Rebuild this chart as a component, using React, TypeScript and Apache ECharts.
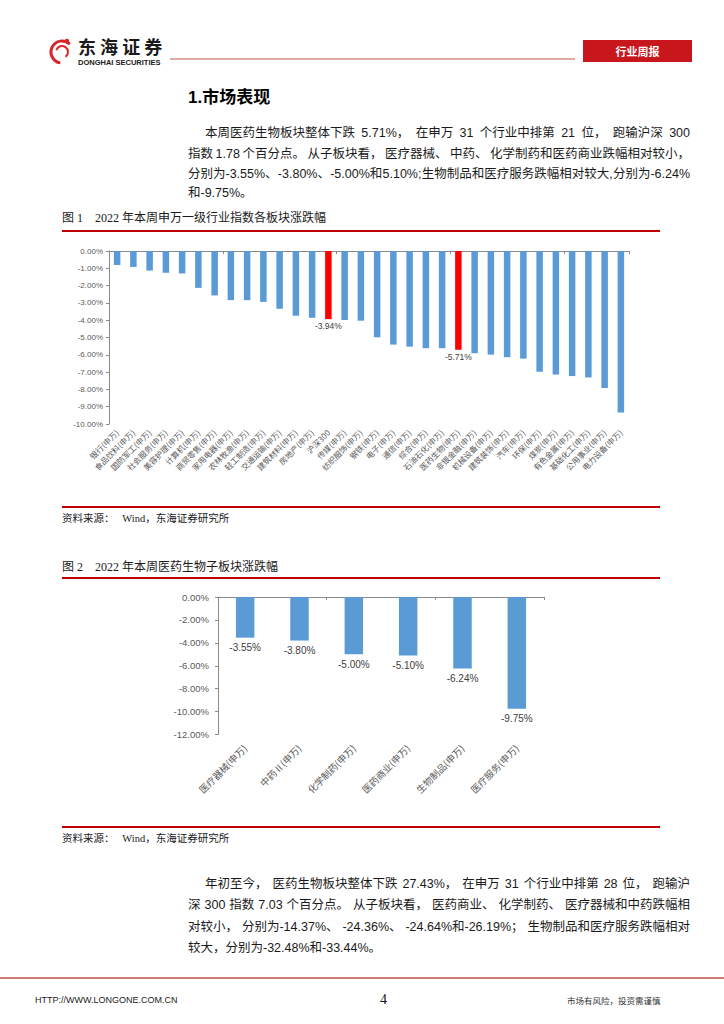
import React, { useEffect, useRef } from "react";
import * as echarts from "echarts";

// ---------- Data ----------
const industryNames = [
  "银行(申万)", "食品饮料(申万)", "国防军工(申万)", "社会服务(申万)", "美容护理(申万)",
  "计算机(申万)", "商贸零售(申万)", "家用电器(申万)", "农林牧渔(申万)", "轻工制造(申万)",
  "交通运输(申万)", "建筑材料(申万)", "房地产(申万)", "沪深300", "传媒(申万)",
  "纺织服饰(申万)", "钢铁(申万)", "电子(申万)", "通信(申万)", "综合(申万)",
  "石油石化(申万)", "医药生物(申万)", "非银金融(申万)", "机械设备(申万)", "建筑装饰(申万)",
  "汽车(申万)", "环保(申万)", "煤炭(申万)", "有色金属(申万)", "基础化工(申万)",
  "公用事业(申万)", "电力设备(申万)",
];
const industryChanges = [
  -0.81, -0.92, -1.13, -1.26, -1.3,
  -2.13, -2.57, -2.84, -2.84, -2.94,
  -3.34, -3.74, -3.86, -3.94, -3.99,
  -4.03, -4.99, -5.41, -5.53, -5.62,
  -5.62, -5.71, -5.91, -5.99, -6.14,
  -6.22, -6.98, -7.14, -7.23, -7.31,
  -7.92, -9.33,
];
const highlighted = ["沪深300", "医药生物(申万)"];

const subSectorNames = [
  "医疗器械(申万)", "中药Ⅱ(申万)", "化学制药(申万)", "医药商业(申万)", "生物制品(申万)", "医疗服务(申万)",
];
const subSectorChanges = [-3.55, -3.8, -5.0, -5.1, -6.24, -9.75];

const para1 = [
  "本周医药生物板块整体下跌 5.71%，在申万 31 个行业中排第 21 位，跑输沪深 300",
  "指数 1.78 个百分点。从子板块看，医疗器械、中药、化学制药和医药商业跌幅相对较小，",
  "分别为-3.55%、-3.80%、-5.00%和 5.10%;生物制品和医疗服务跌幅相对较大,分别为-6.24%",
  "和-9.75%。",
];
const para2 = [
  "年初至今，医药生物板块整体下跌 27.43%，在申万 31 个行业中排第 28 位，跑输沪",
  "深 300 指数 7.03 个百分点。从子板块看，医药商业、化学制药、医疗器械和中药跌幅相",
  "对较小，分别为-14.37%、-24.36%、-24.64%和-26.19%；生物制品和医疗服务跌幅相对",
  "较大，分别为-32.48%和-33.44%。",
];

// ---------- Styles ----------
const SANS = "'Liberation Sans', 'Noto Sans CJK SC', sans-serif";
const SERIF = "'Liberation Serif', 'Noto Sans CJK SC', serif";
const CJK = "'Noto Sans CJK SC', sans-serif";
const BLUE = "#5b9bd5";
const RED_BAR = "#ff0000";
const RULE_RED = "#c00000";
const AXIS_GREY = "#898989";
const LABEL_GREY = "#595959";

function txt(text: string, x: number, y: number, opt: any = {}) {
  return {
    type: "text",
    x,
    y,
    silent: true,
    style: {
      text,
      fill: opt.fill || "#1a1a1a",
      fontSize: opt.fontSize || 13,
      fontFamily: opt.fontFamily || SANS,
      fontWeight: opt.fontWeight || "normal",
      textAlign: opt.align || "left",
      align: opt.align || "left",
      textVerticalAlign: "middle",
      verticalAlign: "middle",
    },
  };
}

function hline(x1: number, x2: number, y: number, color: string, w: number) {
  return {
    type: "line",
    silent: true,
    shape: { x1, y1: y, x2, y2: y },
    style: { stroke: color, lineWidth: w },
  };
}

function measure(text: string, fontSize: number, fontFamily: string, fontWeight = "normal") {
  try {
    const t = new (echarts.graphic as any).Text({ style: { text, fontSize, fontFamily, fontWeight } });
    return t.getBoundingRect().width;
  } catch (e) {
    return text.length * fontSize * 0.8;
  }
}

// justified paragraph line: split at spaces and after CJK punctuation
function justifiedLine(line: string, x0: number, x1: number, y: number, fontSize: number, justify: boolean) {
  const out: any[] = [];
  if (!justify) {
    out.push(txt(line, x0, y, { fontSize }));
    return out;
  }
  const chunks = line.split(/(?<=[，、。；;,])|\s+/).filter((c) => c && c.length > 0);
  const widths = chunks.map((c) => measure(c, fontSize, SANS));
  const total = widths.reduce((a, b) => a + b, 0);
  const gap = chunks.length > 1 ? (x1 - x0 - total) / (chunks.length - 1) : 0;
  let x = x0;
  chunks.forEach((c, i) => {
    out.push(txt(c, x, y, { fontSize }));
    x += widths[i] + gap;
  });
  return out;
}

const pct = (v: number) => v.toFixed(2) + "%";

function buildOption() {
  const graphics: any[] = [];

  // Header logo
  graphics.push({
    type: "arc",
    silent: true,
    shape: { cx: 62, cy: 52, r: 11, startAngle: Math.PI * 0.55, endAngle: Math.PI * 1.75 },
    style: { stroke: "#d7262b", lineWidth: 3, fill: null },
  });
  graphics.push({
    type: "arc",
    silent: true,
    shape: { cx: 62, cy: 52, r: 6, startAngle: Math.PI * 1.1, endAngle: Math.PI * 2.3 },
    style: { stroke: "#d7262b", lineWidth: 2, fill: null },
  });
  graphics.push({ type: "circle", silent: true, shape: { cx: 67, cy: 41, r: 2.2 }, style: { fill: "#d7262b" } });
  graphics.push(txt("东 海 证 券", 78, 46, { fontSize: 18, fontWeight: "bold", fontFamily: CJK, fill: "#1a1a1a" }));
  graphics.push(txt("DONGHAI SECURITIES", 78, 62.5, { fontSize: 7.5, fontWeight: "bold", fill: "#1a1a1a" }));
  graphics.push(hline(170, 575, 59, "#c0504d", 1));
  graphics.push({ type: "rect", silent: true, shape: { x: 583, y: 40, width: 109, height: 22 }, style: { fill: "#c8161d" } });
  graphics.push(txt("行业周报", 637.5, 51, { fontSize: 11, fontWeight: "bold", fontFamily: CJK, fill: "#ffffff", align: "center" }));

  // Section title
  graphics.push(txt("1.市场表现", 188, 97, { fontSize: 17, fontWeight: "bold", fill: "#000" }));

  // Paragraph 1
  const FS = 12.5;
  const p1y = [133, 154, 174, 193];
  para1.forEach((line, i) =>
    graphics.push(...justifiedLine(line, i === 0 ? 205 : 188, 690, p1y[i], FS, i < para1.length - 1))
  );

  // Figure 1 title & rules
  graphics.push(txt("图 1    2022 年本周申万一级行业指数各板块涨跌幅", 62, 218, { fontSize: 12, fontFamily: SERIF }));
  graphics.push(hline(62, 660, 231, RULE_RED, 2));
  graphics.push(hline(62, 660, 507, RULE_RED, 2));
  graphics.push(txt("资料来源：   Wind，东海证券研究所", 62, 518, { fontSize: 10.5, fontFamily: SERIF }));

  // Figure 2 title & rules
  graphics.push(txt("图 2    2022 年本周医药生物子板块涨跌幅", 62, 567, { fontSize: 12, fontFamily: SERIF }));
  graphics.push(hline(62, 660, 578, RULE_RED, 2));
  graphics.push(hline(62, 660, 827, RULE_RED, 2));
  graphics.push(txt("资料来源：   Wind，东海证券研究所", 62, 838, { fontSize: 10.5, fontFamily: SERIF }));

  // Paragraph 2
  const p2y = [884, 905, 927, 948];
  para2.forEach((line, i) =>
    graphics.push(...justifiedLine(line, i === 0 ? 205 : 188, 690, p2y[i], FS, i < para2.length - 1))
  );

  // Footer
  graphics.push(hline(0, 724, 978, "#c0504d", 1.5));
  graphics.push(txt("HTTP://WWW.LONGONE.COM.CN", 35, 1000, { fontSize: 9, fill: "#222" }));
  graphics.push(txt("4", 380, 999, { fontSize: 14, fontFamily: SERIF, fill: "#111" }));
  graphics.push(txt("市场有风险，投资需谨慎", 567, 1000, { fontSize: 8.5, fontFamily: CJK, fill: "#333" }));

  const valueAxisCommon = {
    type: "value",
    max: 0,
    splitLine: { show: false },
    axisLine: { show: true, lineStyle: { color: AXIS_GREY, width: 1 } },
    axisTick: { show: true, length: 3, lineStyle: { color: AXIS_GREY } },
  };

  return {
    animation: false,
    backgroundColor: "#ffffff",
    grid: [
      { left: 109, top: 251, width: 520, height: 173, containLabel: false },
      { left: 218, top: 597, width: 326, height: 137.5, containLabel: false },
    ],
    xAxis: [
      {
        type: "category",
        gridIndex: 0,
        data: industryNames,
        position: "bottom",
        axisLine: { show: false, onZero: false },
        axisTick: { show: false },
        axisLabel: { interval: 0, rotate: 45, fontSize: 8, color: LABEL_GREY, fontFamily: CJK, margin: 7 },
      },
      {
        type: "category",
        gridIndex: 0,
        data: industryNames,
        position: "top",
        axisLine: { show: true, onZero: false, lineStyle: { color: AXIS_GREY } },
        axisTick: { show: true, inside: true, length: 3, lineStyle: { color: AXIS_GREY } },
        axisLabel: { show: false },
      },
      {
        type: "category",
        gridIndex: 1,
        data: subSectorNames,
        position: "bottom",
        axisLine: { show: false, onZero: false },
        axisTick: { show: false },
        axisLabel: { interval: 0, rotate: 45, fontSize: 9.5, color: LABEL_GREY, fontFamily: CJK, margin: 12 },
      },
      {
        type: "category",
        gridIndex: 1,
        data: subSectorNames,
        position: "top",
        axisLine: { show: true, onZero: false, lineStyle: { color: AXIS_GREY } },
        axisTick: { show: true, inside: true, length: 3, lineStyle: { color: AXIS_GREY } },
        axisLabel: { show: false },
      },
    ],
    yAxis: [
      {
        ...valueAxisCommon,
        gridIndex: 0,
        min: -10,
        interval: 1,
        axisLabel: { formatter: pct, fontSize: 8, color: LABEL_GREY, fontFamily: SANS, margin: 6 },
      },
      {
        ...valueAxisCommon,
        gridIndex: 1,
        min: -12,
        interval: 2,
        axisLabel: { formatter: pct, fontSize: 9.5, color: LABEL_GREY, fontFamily: SANS, margin: 9 },
      },
    ],
    series: [
      {
        type: "bar",
        xAxisIndex: 0,
        yAxisIndex: 0,
        barWidth: "40%",
        data: industryChanges.map((v, i) => {
          const hi = highlighted.includes(industryNames[i]);
          return {
            value: v,
            itemStyle: { color: hi ? RED_BAR : BLUE },
            label: hi
              ? { show: true, position: "bottom", distance: 3, formatter: pct(v), fontSize: 8.5, color: "#404040", fontFamily: SANS }
              : { show: false },
          };
        }),
      },
      {
        type: "bar",
        xAxisIndex: 2,
        yAxisIndex: 1,
        barWidth: "34%",
        itemStyle: { color: BLUE },
        label: {
          show: true,
          position: "bottom",
          distance: 5,
          formatter: (p: any) => pct(p.value),
          fontSize: 10,
          color: "#404040",
          fontFamily: SANS,
        },
        data: subSectorChanges,
      },
    ],
    graphic: { elements: graphics },
  };
}

export default function App() {
  const ref = useRef<HTMLDivElement>(null);
  useEffect(() => {
    document.body.style.margin = "0";
    const chart = echarts.init(ref.current!, null, { renderer: "svg" });
    chart.setOption(buildOption() as any);
    return () => chart.dispose();
  }, []);
  return (
    <div
      ref={ref}
      style={{ position: "absolute", left: 0, top: 0, width: 724, height: 1024, background: "#fff" }}
    />
  );
}
